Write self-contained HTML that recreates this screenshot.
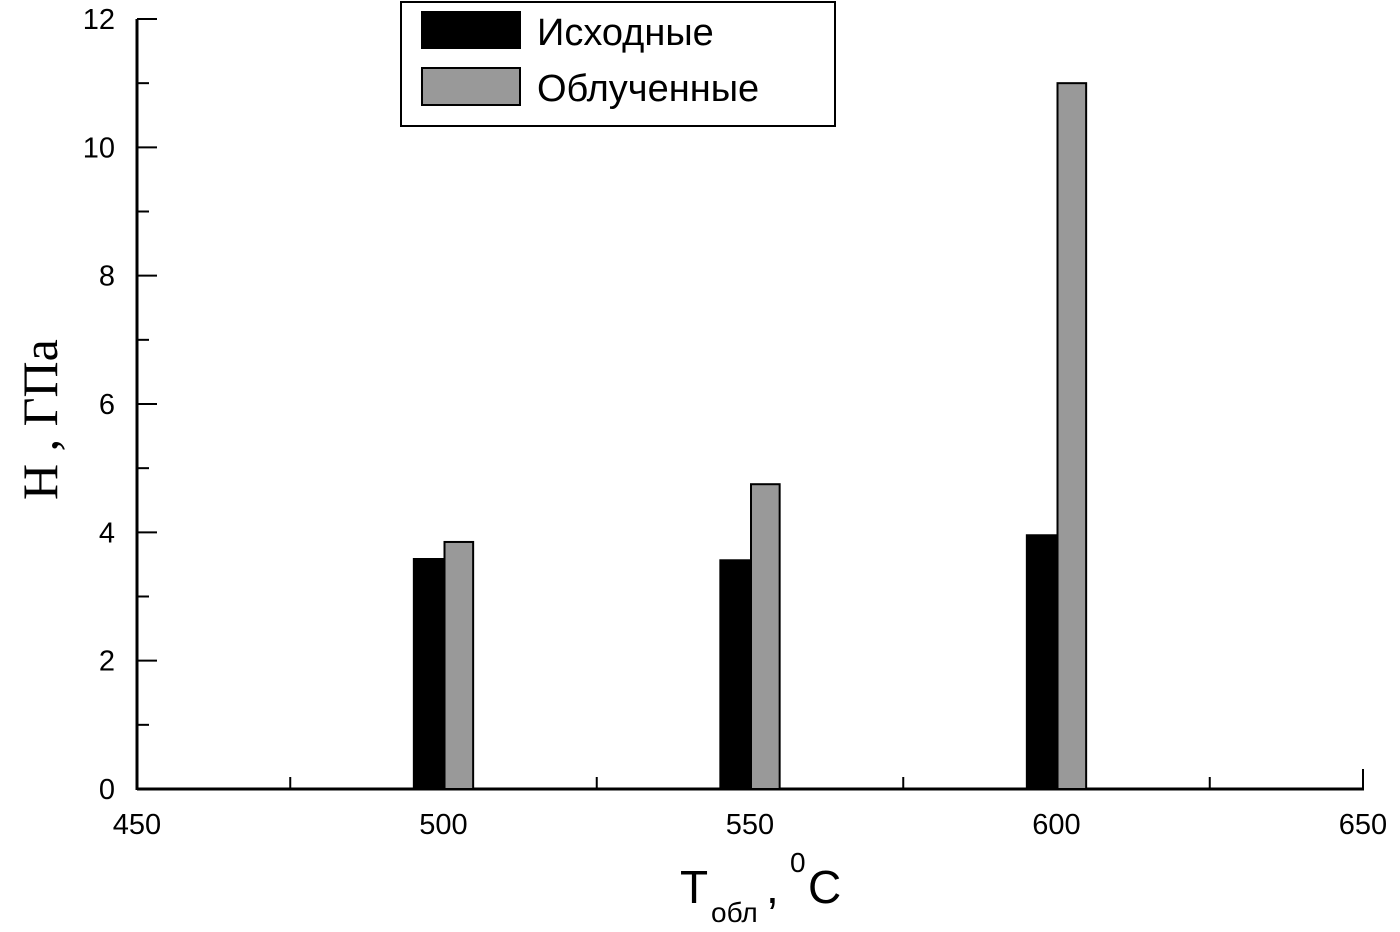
<!DOCTYPE html>
<html><head><meta charset="utf-8"><style>
html,body{margin:0;padding:0;background:#fff;}
svg{display:block;font-family:"Liberation Sans",Arial,sans-serif;}
</style></head><body>
<svg id="chart" width="1400" height="932" viewBox="0 0 1400 932"></svg>
<script>
const categories=[500,550,600];
const seriesInitial=[3.6,3.58,3.97];
const seriesIrradiated=[3.85,4.75,11.0];
const xTicks=[450,500,550,600,650];
const yTicks=[0,2,4,6,8,10,12];
const NS="http://www.w3.org/2000/svg";
const svg=document.getElementById('chart');
const X0=137,X1=1363,Y0=789,Y1=19;
const xs=v=>X0+(v-450)/200*(X1-X0);
const ys=v=>Y0-v/12*(Y0-Y1);
function mk(t,a,p){const e=document.createElementNS(NS,t);for(const k in a)e.setAttribute(k,a[k]);(p||svg).appendChild(e);return e;}
// axes
let g=mk('g',{});


let el=mk('line',{x1:X0,y1:Y0,x2:X1+1,y2:Y0,stroke:'#000','stroke-width':3},g);


el=mk('line',{x1:X0,y1:Y0+1,x2:X0,y2:Y1,stroke:'#000','stroke-width':3},g);


for(let v=450;v<=650;v+=25){
  const major=v%50===0;
  el=mk('line',{x1:xs(v),y1:Y0,x2:xs(v),y2:Y0-(major?20:12),stroke:'#000','stroke-width':2},g);
  
  
}
xTicks.forEach(v=>{
  el=mk('text',{x:xs(v),y:834,'text-anchor':'middle','font-size':29},g);
  el.textContent=v;
  
  
});
for(let v=0;v<=12;v+=1){
  const major=v%2===0;
  el=mk('line',{x1:X0,y1:ys(v),x2:X0+(major?20:12),y2:ys(v),stroke:'#000','stroke-width':2},g);
  
  
}
yTicks.forEach(v=>{
  el=mk('text',{x:115,y:ys(v)+10,'text-anchor':'end','font-size':29},g);
  el.textContent=v;
  
  
});
// bars
const bw=5;
categories.forEach((c,i)=>{
  let b=mk('rect',{x:xs(c-bw),y:ys(seriesInitial[i]),width:xs(c)-xs(c-bw),height:Y0-ys(seriesInitial[i]),fill:'#000'});
  
  
  b=mk('rect',{x:xs(c)+1,y:ys(seriesIrradiated[i]),width:xs(c+bw)-xs(c)-2,height:Y0-ys(seriesIrradiated[i]),fill:'#999',stroke:'#000','stroke-width':2});
  
  
});
</script>
<svg style="position:absolute;left:0;top:0" width="1400" height="932">
<g>
<rect x="401" y="2" width="434" height="124" fill="#fff" stroke="#000" stroke-width="2"/>
<rect x="421" y="11" width="100" height="38" fill="#000"/>
<text x="537" y="45" font-size="38" font-family="Liberation Sans, sans-serif">Исходные</text>
<rect x="422" y="68" width="98" height="37" fill="#999" stroke="#000" stroke-width="2"/>
<text x="537" y="101" font-size="38" font-family="Liberation Sans, sans-serif">Облученные</text>
</g>
<text transform="translate(57,500) rotate(-90)" font-size="50" font-family="Liberation Serif, serif">H , ГПа</text>
<g font-family="Liberation Sans, sans-serif">
<text x="680" y="903" font-size="46">T</text>
<text x="711" y="922" font-size="28">обл</text>
<text x="766" y="903" font-size="46">,</text>
<text x="790" y="872" font-size="28">0</text>
<text x="808" y="903" font-size="46">C</text>
</g>
</svg>
</body></html>
